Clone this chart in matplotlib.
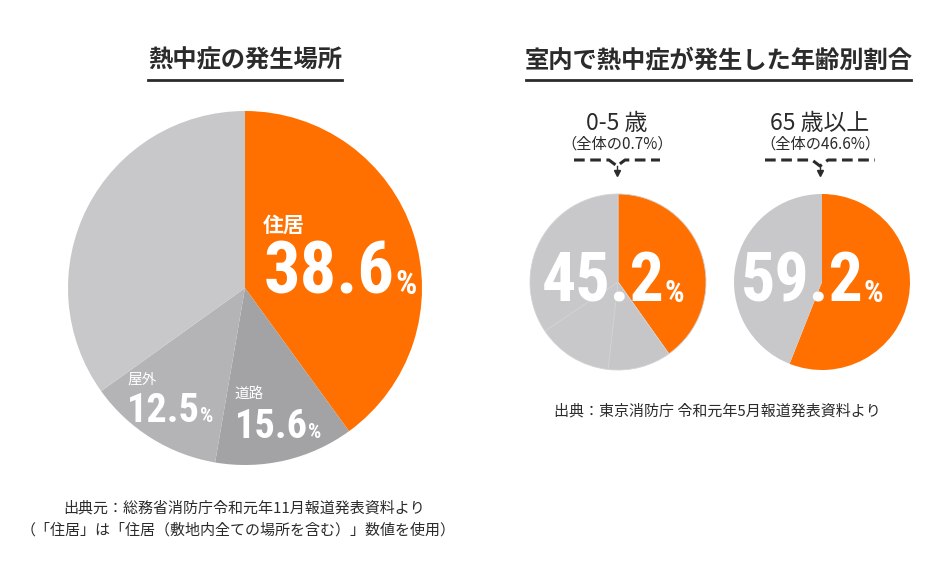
import matplotlib
matplotlib.use("Agg")
import matplotlib.pyplot as plt

plt.rcParams['font.family'] = ['Noto Sans CJK JP', 'DejaVu Sans']

W, H = 926, 583

place_labels = ["住居", "道路", "屋外", "その他"]
place_values = [40.0, 12.7, 12.4, 34.9]
place_texts = ["38.6", "15.6", "12.5"]
place_colors = ["#ff7000", "#a3a3a5", "#b4b4b6", "#c8c8ca"]

# 室内で熱中症が発生した年齢別割合
young_values = [40.2, 11.6, 13.8, 34.4]
young_colors = ["#ff7000", "#c6c6c8", "#c8c8ca", "#c8c8ca"]
old_values = [56.0, 44.0]
old_colors = ["#ff7000", "#c8c8ca"]
age_labels = ["0-5 歳", "65 歳以上"]
age_shares = ["（全体の0.7%）", "（全体の46.6%）"]
age_texts = ["45.2", "59.2"]

dark = "#2b2b2b"
num_family = ["Roboto Condensed", "Liberation Sans Narrow", "Roboto"]

fig = plt.figure(figsize=(W / 100, H / 100), dpi=100)
ax = fig.add_axes([0, 0, 1, 1])


def Y(y):
    return H - y


ax.pie(place_values, colors=place_colors, startangle=90, counterclock=False,
       center=(245, Y(288)), radius=177, wedgeprops=dict(linewidth=0))
ax.pie(young_values, colors=young_colors, startangle=90, counterclock=False,
       center=(618, Y(282)), radius=88,
       wedgeprops=dict(linewidth=0.6, edgecolor="#d2d2d4"))
ax.pie(old_values, colors=old_colors, startangle=90, counterclock=False,
       center=(822, Y(282)), radius=88, wedgeprops=dict(linewidth=0))

ax.set_xlim(0, W)
ax.set_ylim(0, H)
ax.set_aspect("equal")
ax.axis("off")

renderer = fig.canvas.get_renderer()


def big_number(x, y, txt, size, pct_size, gap=0):
    # number followed by a smaller % sign on the same baseline
    t = ax.text(x, Y(y), txt, fontsize=size, family=num_family,
                fontweight="bold", color="white")
    bb = t.get_window_extent(renderer)
    ax.text(bb.x1 + gap, Y(y), "%", fontsize=pct_size, family=num_family,
            fontweight="bold", color="white")


# titles with underline
ax.text(245, Y(60), "熱中症の発生場所", ha="center", va="center",
        fontsize=17.5, fontweight="bold", color=dark)
ax.plot([148, 342], [Y(80), Y(80)], color=dark, lw=2)
ax.text(719, Y(60), "室内で熱中症が発生した年齢別割合", ha="center", va="center",
        fontsize=17.5, fontweight="bold", color=dark)
ax.plot([526, 911], [Y(80), Y(80)], color=dark, lw=2)

# big pie labels
ax.text(263, Y(232), place_labels[0], fontsize=15, fontweight="bold", color="white")
big_number(264, 294, place_texts[0], 52, 24)

ax.text(234, Y(398), place_labels[1], fontsize=10.5, color="white")
big_number(235, 438, place_texts[1], 29, 15)

ax.text(127, Y(384), place_labels[2], fontsize=10.5, color="white")
big_number(127, 422, place_texts[2], 29, 15)

# small pie labels
for cx, label, share, half in zip([617, 820], age_labels, age_shares, [43, 55]):
    ax.text(cx, Y(124), label, ha="center", va="center", fontsize=16.5, color=dark)
    ax.text(cx, Y(144), share, ha="center", va="center", fontsize=11, color=dark)
    ax.plot([cx - half, cx - 8, cx, cx + 8, cx + half],
            [Y(160), Y(160), Y(166), Y(160), Y(160)],
            color=dark, lw=2.2, ls=(0, (3.5, 1.8)))
    ax.plot([cx, cx], [Y(166), Y(172)], color=dark, lw=1)
    ax.plot([cx], [Y(173)], marker="v", markersize=5, color=dark)

big_number(542, 302, age_texts[0], 49, 22)
big_number(741, 302, age_texts[1], 49, 22)

# sources
ax.text(717, Y(411), "出典：東京消防庁 令和元年5月報道発表資料より",
        ha="center", va="center", fontsize=10.8, color=dark)
ax.text(244, Y(508), "出典元：総務省消防庁令和元年11月報道発表資料より",
        ha="center", va="center", fontsize=10.8, color=dark)
ax.text(238, Y(530), "（「住居」は「住居（敷地内全ての場所を含む）」数値を使用）",
        ha="center", va="center", fontsize=10.8, color=dark)

fig.savefig("out.png", dpi=100, facecolor="white")
